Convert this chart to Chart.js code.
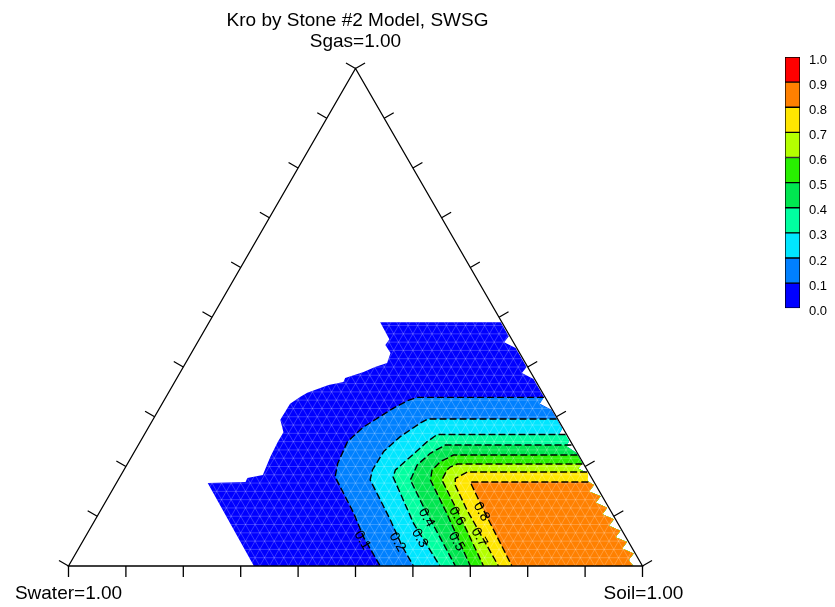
<!DOCTYPE html>
<html><head><meta charset="utf-8">
<script src="https://cdn.jsdelivr.net/npm/chart.js@4.4.1/dist/chart.umd.min.js"></script>
<style>
html,body{margin:0;padding:0;background:#fff;}
#wrap{position:relative;width:835px;height:607px;overflow:hidden;background:#fff;}
#main{position:absolute;left:0;top:0;}
#cbar{position:absolute;left:785px;top:40px;}
</style></head><body>
<div id="wrap"><canvas id="main" width="835" height="607"></canvas><canvas id="cbar" width="45" height="285"></canvas></div>
<script>
// ---------------- data ----------------
const chartTitle = 'Kro by Stone #2 Model, SWSG';
const apexLabel = 'Sgas=1.00';
const leftLabel = 'Swater=1.00';
const rightLabel = 'Soil=1.00';
const axisTicks = [0,0.1,0.2,0.3,0.4,0.5,0.6,0.7,0.8,0.9,1.0];
const levels = [0.0,0.1,0.2,0.3,0.4,0.5,0.6,0.7,0.8,0.9,1.0];
const bandColors = ['#0000ff','#0080ff','#00e6ff','#00ffa0','#00e650','#28f000','#b4ff00','#ffe600','#ff8000','#ff0000'];
const contourLevels = [0.1,0.2,0.3,0.4,0.5,0.6,0.7,0.8];
// points are [Swater, Sgas]
const regionLeftEdge = [[0.212,0.490],[0.213,0.456],[0.226,0.444],[0.225,0.428],[0.241,0.408],[0.266,0.400],[0.291,0.390],[0.329,0.378],[0.336,0.370],[0.365,0.364],[0.410,0.348],[0.426,0.340],[0.451,0.326],[0.484,0.294],[0.491,0.269],[0.511,0.249],[0.539,0.219],[0.570,0.183],[0.600,0.177],[0.607,0.169],[0.674,0.167],[0.677,0]];
const regionRightEdge = [[0.002,0.490],[0.002,0.462],[0.016,0.450],[0.002,0.438],[0.002,0.400],[0.016,0.388],[0.002,0.376],[0.002,0.340],[0.016,0.326],[0.002,0.314],[0.002,0.276],[0.014,0.264],[0.002,0.252],[0.012,0.240],[0.002,0.228],[0.002,0.206],[0.014,0.196],[0.002,0.186],[0.010,0.170],[0.003,0.163],[0.018,0.150],[0.003,0.140],[0.018,0.127],[0.003,0.117],[0.018,0.104],[0.003,0.094],[0.018,0.081],[0.003,0.071],[0.018,0.058],[0.003,0.048],[0.018,0.035],[0.003,0.025],[0.018,0.012],[0.016,0]];
const kro01 = [[0.002,0.339],[0.223,0.339],[0.244,0.332],[0.276,0.317],[0.319,0.294],[0.347,0.279],[0.389,0.250],[0.428,0.206],[0.446,0.179],[0.447,0.159],[0.450,0.107],[0.457,0.058],[0.457,0]];
const kro02 = [[0.002,0.2955],[0.226,0.2955],[0.244,0.287],[0.292,0.260],[0.336,0.230],[0.374,0.193],[0.388,0.173],[0.390,0.139],[0.393,0.0925],[0.399,0.039],[0.399,0]];
const kro03 = [[0.002,0.2643],[0.2255,0.2643],[0.250,0.250],[0.299,0.2165],[0.334,0.193],[0.345,0.179],[0.356,0.086],[0.353,0]];
const kro04 = [[0.002,0.2432],[0.222,0.2432],[0.2565,0.2265],[0.291,0.203],[0.312,0.1795],[0.318,0.173],[0.322,0.119],[0.326,0]];
const kro05 = [[0.002,0.2231],[0.218,0.2231],[0.2475,0.2096],[0.270,0.193],[0.283,0.173],[0.288,0.106],[0.300,0]];
const kro06 = [[0.002,0.205],[0.220,0.205],[0.2355,0.199],[0.244,0.193],[0.263,0.173],[0.268,0.099],[0.277,0]];
const kro07 = [[0.002,0.1889],[0.211,0.1889],[0.238,0.176],[0.245,0.163],[0.2495,0.113],[0.251,0]];
const kro08 = [[0.010,0.1688],[0.2157,0.1688],[0.2207,0.1126],[0.2275,0]];
const contours = [kro01,kro02,kro03,kro04,kro05,kro06,kro07,kro08];

// ---------------- build ----------------
const FONT = '"Liberation Sans", Arial, Helvetica, sans-serif';
const toXY = p => ({x: 1 - p[0] - p[1]/2, y: p[1]});

const polygons = [];
polygons.push(regionRightEdge.concat(regionLeftEdge.slice().reverse()));
contours.forEach(c => {
  const top = c[0][1];
  const right = regionRightEdge.filter(p => p[1] < top - 0.001).reverse();
  polygons.push(c.concat(right));
});

const datasets = [];
polygons.forEach((poly, k) => {
  datasets.push({
    data: poly.map(toXY), fill: 'shape', backgroundColor: bandColors[k],
    borderWidth: 0, pointRadius: 0, tension: 0, order: 20 - k
  });
});
const meshAfterIndex = polygons.length - 1;
contours.forEach(c => {
  datasets.push({
    data: c.map(toXY), fill: false, borderColor: '#000', borderWidth: 1.4,
    borderDash: [7, 3], pointRadius: 0, tension: 0, order: 1
  });
});

function P(chart, sw, sg) {
  const xs = chart.scales.x, ys = chart.scales.y;
  return [xs.getPixelForValue(1 - sw - sg/2), ys.getPixelForValue(sg)];
}

function drawMesh(chart) {
  const ctx = chart.ctx;
  ctx.save();
  ctx.beginPath();
  polygons[0].forEach((p, i) => {
    const q = P(chart, p[0], p[1]);
    if (i === 0) ctx.moveTo(q[0], q[1]); else ctx.lineTo(q[0], q[1]);
  });
  ctx.closePath();
  ctx.clip();
  ctx.strokeStyle = 'rgba(255,255,255,0.22)';
  ctx.lineWidth = 1;
  const N = 60;
  ctx.beginPath();
  for (let i = 1; i < N; i++) {
    const c = i / N;
    let a = P(chart, 1 - c, c), b = P(chart, 0, c);
    ctx.moveTo(a[0], a[1]); ctx.lineTo(b[0], b[1]);
    a = P(chart, c, 0); b = P(chart, c, 1 - c);
    ctx.moveTo(a[0], a[1]); ctx.lineTo(b[0], b[1]);
    a = P(chart, 1 - c, 0); b = P(chart, 0, 1 - c);
    ctx.moveTo(a[0], a[1]); ctx.lineTo(b[0], b[1]);
  }
  ctx.stroke();
  ctx.restore();
}

const labelSgas = [0.052, 0.048, 0.056, 0.097, 0.049, 0.100, 0.058, 0.109];
function drawContourLabels(chart) {
  const ctx = chart.ctx;
  ctx.save();
  ctx.fillStyle = '#000';
  ctx.font = '14px ' + FONT;
  ctx.textAlign = 'center';
  ctx.textBaseline = 'middle';
  contours.forEach((c, k) => {
    const g = labelSgas[k];
    let pt = null;
    for (let i = c.length - 1; i > 0; i--) {
      const a = c[i - 1], b = c[i];
      if ((a[1] - g) * (b[1] - g) <= 0 && a[1] !== b[1]) {
        const t = (g - a[1]) / (b[1] - a[1]);
        pt = [a[0] + t * (b[0] - a[0]), g];
        break;
      }
    }
    if (!pt) return;
    const q = P(chart, pt[0], pt[1]);
    ctx.save();
    ctx.translate(q[0] - 3, q[1]);
    ctx.rotate(Math.PI / 3);
    ctx.fillText(contourLevels[k].toFixed(1), 0, 0);
    ctx.restore();
  });
  ctx.restore();
}

function drawFrame(chart) {
  const ctx = chart.ctx;
  const BL = P(chart, 1, 0), BR = P(chart, 0, 0), AP = P(chart, 0, 1);
  ctx.save();
  ctx.strokeStyle = '#000';
  ctx.lineWidth = 1.3;
  ctx.beginPath();
  ctx.moveTo(BL[0], BL[1]); ctx.lineTo(BR[0], BR[1]); ctx.lineTo(AP[0], AP[1]); ctx.closePath();
  ctx.stroke();
  const L = 11;
  ctx.beginPath();
  axisTicks.forEach(t => {
    let p = P(chart, 1 - t, 0);
    ctx.moveTo(p[0], p[1]); ctx.lineTo(p[0], p[1] + L);
    p = P(chart, 1 - t, t);
    ctx.moveTo(p[0], p[1]); ctx.lineTo(p[0] - L * 0.866, p[1] - L * 0.5);
    p = P(chart, 0, t);
    ctx.moveTo(p[0], p[1]); ctx.lineTo(p[0] + L * 0.866, p[1] - L * 0.5);
  });
  ctx.stroke();
  ctx.fillStyle = '#000';
  ctx.font = '19px ' + FONT;
  ctx.textAlign = 'center';
  ctx.textBaseline = 'alphabetic';
  ctx.fillText(chartTitle, AP[0] + 2, 26);
  ctx.fillText(apexLabel, AP[0], 46.5);
  ctx.fillText(leftLabel, BL[0], 599);
  ctx.fillText(rightLabel, BR[0] + 1, 599);
  ctx.restore();
}

const ternaryPlugin = {
  id: 'ternary',
  afterDatasetDraw(chart, args) { if (args.index === meshAfterIndex) drawMesh(chart); },
  afterDatasetsDraw(chart) { drawContourLabels(chart); },
  afterDraw(chart) { drawFrame(chart); }
};

new Chart(document.getElementById('main'), {
  type: 'line',
  data: { datasets },
  options: {
    responsive: false, animation: false, events: [],
    layout: { padding: { left: 68.5, right: 192.5, top: 68.5, bottom: 41 } },
    plugins: { legend: { display: false }, tooltip: { enabled: false } },
    scales: {
      x: { type: 'linear', min: 0, max: 1, display: false },
      y: { type: 'linear', min: 0, max: 1, display: false }
    }
  },
  plugins: [ternaryPlugin]
});

// ---------------- colour bar ----------------
const barSets = bandColors.map((col, i) => ({
  data: [levels[i + 1] - levels[i]], backgroundColor: col, borderColor: '#000',
  borderWidth: 1, borderSkipped: false, barPercentage: 1, categoryPercentage: 1
}));
new Chart(document.getElementById('cbar'), {
  type: 'bar',
  data: { labels: [''], datasets: barSets },
  options: {
    responsive: false, animation: false, events: [],
    layout: { padding: { top: 17, bottom: 13, left: 0, right: 0 } },
    plugins: { legend: { display: false }, tooltip: { enabled: false } },
    scales: {
      x: { stacked: true, display: false },
      y: {
        stacked: true, min: 0, max: 1, position: 'right',
        grid: { display: false, drawTicks: false }, border: { display: false },
        afterFit: s => { s.width = 30; },
        afterBuildTicks: s => { s.ticks = levels.map(v => ({ value: v })); },
        ticks: { color: '#000', font: { size: 13, family: FONT }, padding: 9, labelOffset: 3,
                 callback: v => Number(v).toFixed(1) }
      }
    }
  }
});
</script>
</body></html>
